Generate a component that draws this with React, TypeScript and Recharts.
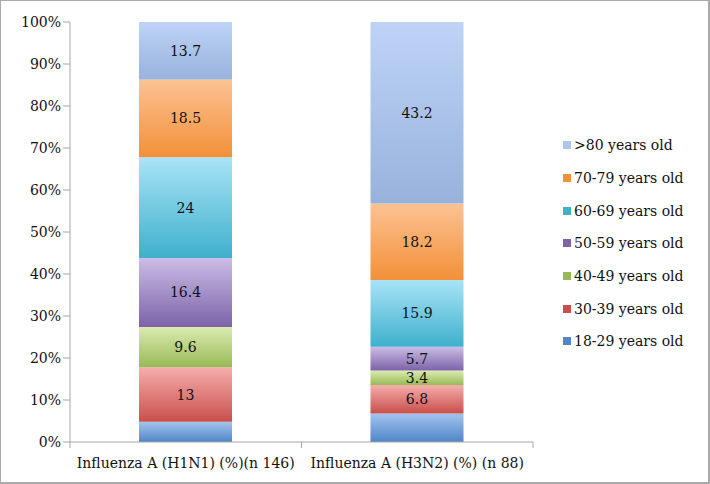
import { BarChart, Bar, XAxis, YAxis, LabelList, Legend } from 'recharts';

// categories and values (% of cases by age group)
const categories = ['Influenza A (H1N1) (%)(n 146)', 'Influenza A (H3N2) (%) (n 88)'];
const ageGroups = [
  '18-29 years old',
  '30-39 years old',
  '40-49 years old',
  '50-59 years old',
  '60-69 years old',
  '70-79 years old',
  '>80 years old',
];
const h1n1 = [4.8, 13, 9.6, 16.4, 24, 18.5, 13.7];
const h3n2 = [6.8, 6.8, 3.4, 5.7, 15.9, 18.2, 43.2];
const yTicks = [0, 10, 20, 30, 40, 50, 60, 70, 80, 90, 100];

// gradient per series: [top, bottom]
const gradients: [string, string][] = [
  ['#a4c4ee', '#4f86c8'],
  ['#f6aeab', '#c84f4b'],
  ['#dbebb0', '#98b955'],
  ['#cbbde6', '#7c63a8'],
  ['#a8e4f6', '#3fb0cc'],
  ['#fcc293', '#f39038'],
  ['#bed4f7', '#98b2dc'],
];
const swatch = ['#4f86c8', '#c84f4b', '#98b955', '#7c63a8', '#3fb0cc', '#f39038', '#aec5ec'];
const showLabels = [false, true, true, true, true, true, true];

const FONT = 'DejaVu Serif';

const data = categories.map((name, i) => {
  const row: Record<string, string | number> = { name };
  const vals = i === 0 ? h1n1 : h3n2;
  ageGroups.forEach((g, j) => {
    row[g] = vals[j];
  });
  return row;
});

function XTick(props: any) {
  const { x, y, payload } = props;
  const half = payload && payload.offset ? payload.offset : 116;
  return (
    <g>
      <line x1={x - half} y1={y - 8} x2={x - half} y2={y - 2} stroke="#a6a6a6" />
      <line x1={x + half} y1={y - 8} x2={x + half} y2={y - 2} stroke="#a6a6a6" />
      <text x={x} y={y + 18} textAnchor="middle" fontSize={14} fontFamily={FONT} fill="#111">
        {payload.value}
      </text>
    </g>
  );
}

function LegendBox() {
  const items = ageGroups.map((g, i) => ({ g, c: swatch[i] })).reverse();
  return (
    <div style={{ fontFamily: FONT, fontSize: 14, color: '#111' }}>
      {items.map((it) => (
        <div key={it.g} style={{ display: 'flex', alignItems: 'center', height: 32.7 }}>
          <span style={{ width: 8, height: 8, background: it.c, marginRight: 3, display: 'inline-block' }} />
          <span>{it.g}</span>
        </div>
      ))}
    </div>
  );
}

export default function App() {
  return (
    <div
      style={{
        position: 'absolute',
        left: 0,
        top: 0,
        width: 710,
        height: 484,
        boxSizing: 'border-box',
        borderStyle: 'solid',
        borderColor: '#aaa',
        borderWidth: '1px 2px 2px 1px',
        background: '#fff',
      }}
    >
      <div style={{ position: 'absolute', left: -1, top: -1 }}>
        <BarChart
          width={710}
          height={484}
          data={data}
          margin={{ top: 22, right: 37, bottom: 10, left: 8 }}
          barCategoryGap={0}
          barSize={93}
        >
          <defs>
            {gradients.map(([top, bottom], i) => (
              <linearGradient key={i} id={`g${i}`} x1="0" y1="0" x2="0" y2="1">
                <stop offset="0%" stopColor={top} />
                <stop offset="100%" stopColor={bottom} />
              </linearGradient>
            ))}
          </defs>
          <XAxis
            dataKey="name"
            height={32}
            stroke="#a6a6a6"
            tickLine={false}
            tick={<XTick />}
            interval={0}
          />
          <YAxis
            domain={[0, 100]}
            ticks={yTicks}
            width={62}
            stroke="#a6a6a6"
            tickSize={7}
            tickFormatter={(v: number) => `${v}%`}
            tick={{ fontSize: 14, fontFamily: FONT, fill: '#111' }}
            interval={0}
          />
          <Legend
            layout="vertical"
            align="right"
            verticalAlign="top"
            content={<LegendBox />}
            wrapperStyle={{ left: 563, top: 129, width: 140 }}
          />
          {ageGroups.map((g, i) => (
            <Bar key={g} dataKey={g} stackId="a" fill={`url(#g${i})`} isAnimationActive={false}>
              {showLabels[i] && (
                <LabelList
                  dataKey={g}
                  position="center"
                  fill="#111"
                  fontSize={14}
                  fontFamily={FONT}
                />
              )}
            </Bar>
          ))}
        </BarChart>
      </div>
    </div>
  );
}
